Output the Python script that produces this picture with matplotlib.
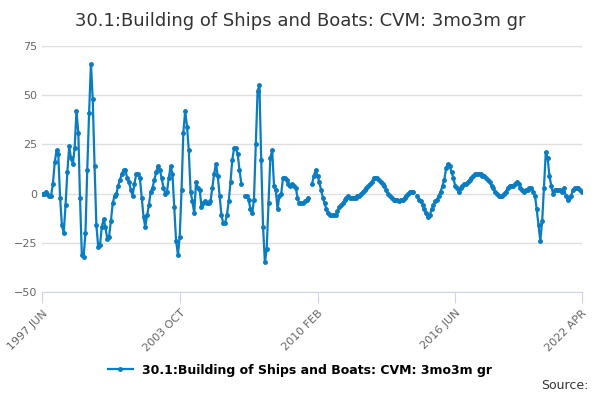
import numpy as np
import pandas as pd
import matplotlib
matplotlib.use("Agg")
import matplotlib.pyplot as plt

# monthly values from 1997 JUN (nan = missing month)
nan = np.nan
values = [
    0, 0, 1, 0, -1, -1, 5, 16, 22, 20, -2, -16,
    -20, -6, 11, 24, 18, 15, 23, 42, 31, -2, -31, -32,
    -20, 12, 41, 66, 48, 14, -16, -27, -26, -17, -13, -17,
    -23, -22, -14, -5, -1, 0, 4, 7, 10, 12, 12, 8,
    6, 2, -1, 5, 10, 10, 8, -2, -12, -17, -11, -6,
    1, 3, 7, 11, 14, 12, 8, 3, 0, 1, 8, 14,
    10, -7, -24, -31, -22, 2, 31, 42, 34, 22, 1, -4,
    -10, 6, 3, 2, -7, -5, -4, -5, -5, -4, 3, 10,
    15, 9, -1, -11, -15, -15, -11, -4, 6, 17, 23, 23,
    20, 12, 5, nan, -1, -1, -3, -8, -10, -3, 25, 52,
    55, 17, -17, -35, -28, -5, 18, 22, 4, 2, -8, -1,
    0, 8, 8, 7, 5, 4, 5, 4, 3, -2, -5, -5,
    -5, -4, -3, -2, nan, 5, 9, 12, 9, 6, 2, -2,
    -5, -8, -10, -11, -11, -11, -11, -9, -7, -6, -5, -3,
    -2, -1, -2, -2, -2, -2, -1, -1, 0, 1, 2, 3,
    4, 5, 6, 8, 8, 8, 7, 6, 5, 4, 2, 0,
    -1, -2, -3, -3, -3, -4, -3, -3, -2, -1, 0, 1,
    1, 1, nan, -1, -3, -4, -6, -8, -10, -12, -11, -8,
    -6, -4, -3, -1, 1, 4, 7, 13, 15, 14, 11, 8,
    4, 3, 1, 3, 4, 5, 5, 6, 7, 8, 9, 10,
    10, 10, 10, 9, 9, 8, 7, 6, 4, 3, 1, 0,
    -1, -1, -1, 0, 1, 3, 4, 4, 4, 5, 6, 5,
    3, 2, 1, 2, 2, 3, 3, 1, -1, -8, -16, -24,
    -14, 3, 21, 18, 9, 4, 0, 2, 2, 2, 2, 1,
    3, -1, -3, -2, -1, 2, 3, 3, 3, 2, 1,
]
dates = pd.date_range("1997-06-01", periods=len(values), freq="MS")
tick_dates = ["1997-06-01", "2003-10-01", "2010-02-01", "2016-06-01", "2022-04-01"]
tick_labels = ["1997 JUN", "2003 OCT", "2010 FEB", "2016 JUN", "2022 APR"]
y_ticks = [-50, -25, 0, 25, 50, 75]
series_name = "30.1:Building of Ships and Boats: CVM: 3mo3m gr"

fig = plt.figure(figsize=(6, 4), dpi=100)
ax = fig.add_axes([0.07, 0.27, 0.9, 0.615])
ax.plot(dates, values, color="#0a7cc1", lw=1.6, marker="o", ms=2.5, label=series_name)

ax.set_ylim(-50, 75)
ax.set_yticks(y_ticks)
ax.set_xlim(dates[0], dates[-1])
ax.set_xticks(pd.to_datetime(tick_dates))
ax.set_xticklabels(tick_labels, rotation=45, ha="right", rotation_mode="anchor")
ax.grid(axis="y", color="#e0e0e0", lw=1)
ax.set_axisbelow(True)
for s in ["top", "right", "left"]:
    ax.spines[s].set_visible(False)
ax.spines["bottom"].set_color("#ccd6eb")
ax.tick_params(axis="y", length=0, labelsize=8, colors="#666666")
ax.tick_params(axis="x", length=8, color="#ccd6eb", labelsize=8, colors="#666666")

fig.suptitle(series_name, y=0.97, fontsize=13, color="#333333")
fig.legend(loc="lower center", bbox_to_anchor=(0.5, 0.03), frameon=False,
           fontsize=9, prop={"weight": "bold", "size": 9})
fig.text(0.98, 0.02, "Source:", ha="right", va="bottom", fontsize=9, color="#333333")

fig.savefig("out.png")
